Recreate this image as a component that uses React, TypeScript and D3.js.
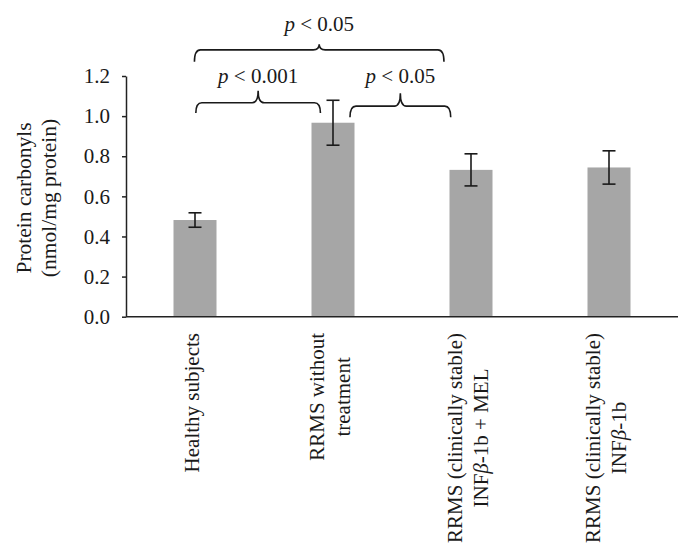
import React, { useEffect, useRef } from "react";
import * as d3 from "d3";

// bar chart: protein carbonyls by group, with significance brackets

const categories = [
  ["Healthy subjects"],
  ["RRMS without", "treatment"],
  ["RRMS (clinically stable)", "INF\u03b2-1b + MEL"],
  ["RRMS (clinically stable)", "INF\u03b2-1b"],
];
const means = [0.482, 0.967, 0.732, 0.744];
const errors = [0.036, 0.112, 0.08, 0.083];
const yTicks = [0, 0.2, 0.4, 0.6, 0.8, 1.0, 1.2];

// brackets: [from index, frac in band, to index, frac in band, bottom, line, notch, label y] in data units
const brackets: [number, number, number, number, number, number, number, number, string][] = [
  [0, 0.496, 2, 0.304, 1.271, 1.33, 1.358, 1.426, "0.05"],
  [0, 0.506, 1, 0.409, 1.015, 1.067, 1.127, 1.167, "0.001"],
  [1, 0.623, 2, 0.353, 0.994, 1.05, 1.114, 1.167, "0.05"],
];

const FONT = "'Liberation Serif', 'Times New Roman', serif";

const App: React.FC = () => {
  const svgRef = useRef<SVGSVGElement | null>(null);

  useEffect(() => {
    document.body.style.margin = "0";
    const width = 684;
    const height = 554;
    const marginLeft = 126;
    const marginRight = 6;
    const y0 = 316.7;
    const y12 = 76;

    const svg = d3.select(svgRef.current);
    svg.selectAll("*").remove();
    svg.attr("width", width).attr("height", height).style("font-family", FONT);

    const x = d3
      .scaleBand()
      .domain(categories.map((_, i) => i.toString()))
      .range([marginLeft, width - marginRight])
      .padding(0);
    const step = x.bandwidth();
    const barW = 43;

    const y = d3.scaleLinear().domain([0, 1.2]).range([y0, y12]);

    // bars
    svg
      .selectAll(".bar")
      .data(means)
      .enter()
      .append("rect")
      .attr("class", "bar")
      .attr("x", (_, i) => (x(i.toString()) as number) + step / 2 - barW / 2)
      .attr("y", (d) => y(d))
      .attr("width", barW)
      .attr("height", (d) => y(0) - y(d))
      .attr("fill", "#a6a6a6");

    // error bars
    const eb = svg
      .selectAll(".err")
      .data(means)
      .enter()
      .append("g")
      .attr("class", "err")
      .attr("stroke", "#1a1a1a")
      .attr("stroke-width", 1.6);
    const cx = (i: number) => (x(i.toString()) as number) + step / 2;
    eb.append("line")
      .attr("x1", (_, i) => cx(i))
      .attr("x2", (_, i) => cx(i))
      .attr("y1", (d, i) => y(d + errors[i]))
      .attr("y2", (d, i) => y(d - errors[i]));
    eb.append("line")
      .attr("x1", (_, i) => cx(i) - 6.5)
      .attr("x2", (_, i) => cx(i) + 6.5)
      .attr("y1", (d, i) => y(d + errors[i]))
      .attr("y2", (d, i) => y(d + errors[i]));
    eb.append("line")
      .attr("x1", (_, i) => cx(i) - 6.5)
      .attr("x2", (_, i) => cx(i) + 6.5)
      .attr("y1", (d, i) => y(d - errors[i]))
      .attr("y2", (d, i) => y(d - errors[i]));

    // y axis
    const gy = svg
      .append("g")
      .attr("transform", `translate(${marginLeft},0)`)
      .call(
        d3
          .axisLeft(y)
          .tickValues(yTicks)
          .tickSize(4)
          .tickPadding(12)
          .tickSizeOuter(0)
          .tickFormat(d3.format(".1f")),
      );
    gy.select(".domain").attr("stroke", "#222").attr("stroke-width", 1.5);
    gy.selectAll(".tick line").attr("stroke", "#222").attr("stroke-width", 1.5);
    gy.selectAll("text")
      .style("font-size", "21px")
      .style("font-family", FONT)
      .attr("fill", "#1a1a1a");

    // x axis line
    svg
      .append("line")
      .attr("x1", marginLeft)
      .attr("x2", width - marginRight)
      .attr("y1", y(0))
      .attr("y2", y(0))
      .attr("stroke", "#222")
      .attr("stroke-width", 1.5);

    // category labels
    categories.forEach((lines, i) => {
      const g = svg.append("g");
      const t = g
        .append("text")
        .attr("text-anchor", "middle")
        .attr("fill", "#1a1a1a")
        .style("font-size", "21px");
      const lh = 26;
      const off = 4 - ((lines.length - 1) * lh) / 2;
      lines.forEach((line, j) => {
        const ts = t.append("tspan").attr("x", 0).attr("y", off + j * lh);
        const parts = line.split("\u03b2");
        if (parts.length > 1) {
          ts.append("tspan").text(parts[0]);
          ts.append("tspan").style("font-style", "italic").text("\u03b2");
          ts.append("tspan").text(parts[1]);
        } else {
          ts.text(line);
        }
      });
      const L = d3.max(
        t.selectAll<SVGTSpanElement, unknown>(":scope > tspan").nodes(),
        (n) => n.getComputedTextLength(),
      ) as number;
      g.attr("transform", `translate(${cx(i)},${333 + L / 2}) rotate(-90)`);
    });

    // y axis title
    svg
      .append("text")
      .attr("transform", "translate(0,198) rotate(-90)")
      .attr("text-anchor", "middle")
      .attr("fill", "#1a1a1a")
      .style("font-size", "21.5px")
      .selectAll("tspan")
      .data(["Protein carbonyls", "(nmol/mg protein)"])
      .enter()
      .append("tspan")
      .attr("x", 0)
      .attr("y", (_, j) => 31 + j * 25)
      .text((d) => d);

    // significance brackets
    brackets.forEach(([a, fa, b, fb, bot, mid, top, ly, label]) => {
      const x1 = (x(a.toString()) as number) + step * fa;
      const x2 = (x(b.toString()) as number) + step * fb;
      const xm = (x1 + x2) / 2;
      const yb = y(bot);
      const ym = y(mid);
      const yt = y(top);
      const r = 6;
      const p = d3.path();
      p.moveTo(x1, yb);
      p.quadraticCurveTo(x1, ym, x1 + r, ym);
      p.lineTo(xm - r, ym);
      p.quadraticCurveTo(xm, ym, xm, yt);
      p.quadraticCurveTo(xm, ym, xm + r, ym);
      p.lineTo(x2 - r, ym);
      p.quadraticCurveTo(x2, ym, x2, yb);
      svg
        .append("path")
        .attr("d", p.toString())
        .attr("fill", "none")
        .attr("stroke", "#1a1a1a")
        .attr("stroke-width", 1.6);
      const t = svg
        .append("text")
        .attr("x", xm)
        .attr("y", y(ly))
        .attr("text-anchor", "middle")
        .attr("fill", "#1a1a1a")
        .style("font-size", "21px");
      t.append("tspan").style("font-style", "italic").text("p");
      t.append("tspan").text(" < " + label);
    });
  }, []);

  return <svg ref={svgRef}></svg>;
};

export default App;
